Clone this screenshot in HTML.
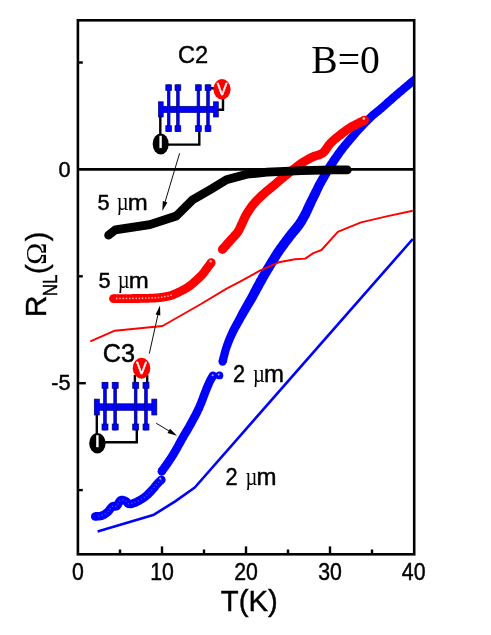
<!DOCTYPE html>
<html><head><meta charset="utf-8"><title>R_NL vs T</title>
<style>
html,body{margin:0;padding:0;background:#fff;}
body{width:491px;height:635px;overflow:hidden;font-family:"Liberation Sans",sans-serif;}
svg{display:block;will-change:transform;}
text{font-family:"Liberation Sans",sans-serif;fill:#000;stroke:#000;stroke-width:0.4px;}
.serif{font-family:"Liberation Serif",serif;stroke:none;}
</style></head><body>
<svg width="491" height="635" viewBox="0 0 491 635">
<rect x="0" y="0" width="491" height="635" fill="#fff"/>
<defs><clipPath id="plot"><rect x="78" y="20" width="336" height="534"/></clipPath></defs>

<!-- thick blue data -->
<g clip-path="url(#plot)">
<polygon points="95.4,520.6 96.0,520.6 96.9,520.6 98.1,520.6 99.5,520.5 101.0,520.2 102.5,519.9 103.8,519.4 104.9,518.9 106.0,518.4 107.1,517.8 108.1,517.1 109.1,516.3 110.2,515.5 111.3,514.4 112.3,513.3 113.1,512.2 113.8,511.2 114.4,510.4 114.8,510.0 114.4,510.2 113.8,510.3 113.7,510.5 115.8,510.8 118.8,509.9 120.5,508.2 121.4,506.9 122.0,505.7 122.5,504.7 123.0,503.9 123.1,503.7 122.6,504.1 122.1,504.2 122.1,504.2 122.5,504.4 123.2,504.6 123.5,504.7 123.6,504.8 123.9,505.3 125.1,506.7 127.4,508.0 129.6,508.3 131.3,508.2 132.7,507.9 134.1,507.5 135.3,507.1 136.5,506.7 137.6,506.2 138.8,505.6 139.9,505.0 141.0,504.4 142.1,503.8 143.0,503.2 144.0,502.7 144.9,502.1 145.9,501.5 146.8,500.8 147.8,500.1 148.8,499.3 149.7,498.5 150.6,497.7 151.4,496.9 152.2,496.1 153.1,495.2 153.8,494.4 154.6,493.6 155.4,492.7 156.2,491.8 157.0,490.8 157.8,489.9 158.5,488.9 159.2,488.1 159.9,487.3 160.4,486.7 161.3,485.7 162.2,484.8 163.1,484.0 163.8,483.3 164.4,482.7 158.4,476.7 157.9,477.2 157.2,477.9 156.2,478.8 155.2,479.8 154.2,480.9 153.4,481.8 152.7,482.7 151.9,483.6 151.2,484.5 150.5,485.4 149.8,486.2 149.0,487.1 148.4,487.8 147.6,488.6 146.9,489.3 146.2,490.1 145.4,490.8 144.7,491.5 144.0,492.2 143.4,492.7 142.6,493.3 141.9,493.9 141.1,494.4 140.3,494.9 139.5,495.4 138.7,495.9 137.9,496.4 136.9,497.0 135.9,497.5 135.0,498.0 134.1,498.4 133.2,498.8 132.5,499.1 131.5,499.4 130.7,499.7 130.0,499.8 129.7,499.8 130.2,500.0 130.7,500.3 130.6,500.0 129.6,498.8 127.9,497.5 126.4,496.8 125.0,496.2 123.3,495.8 121.0,495.8 118.6,496.5 116.8,498.0 115.8,499.4 115.1,500.6 114.5,501.7 114.0,502.6 113.8,503.0 114.4,502.5 115.4,502.3 115.5,502.1 113.4,501.8 110.6,502.6 108.8,503.9 107.9,505.0 107.0,506.1 106.3,507.1 105.6,508.0 105.1,508.6 104.6,509.1 104.0,509.6 103.3,510.0 102.7,510.5 102.0,510.9 101.3,511.2 100.6,511.5 100.1,511.7 99.4,511.9 98.6,512.0 97.7,512.1 96.7,512.1 95.7,512.1 95.0,512.2" fill="#0000ff"/><circle cx="95.2" cy="516.4" r="4.25" fill="#0000ff"/><circle cx="161.4" cy="479.7" r="4.25" fill="#0000ff"/>
<polygon points="165.3,473.7 165.6,473.2 166.1,472.5 166.6,471.8 167.3,470.9 167.9,470.0 168.7,469.0 169.4,467.9 170.1,466.9 170.8,465.9 171.5,464.9 172.1,464.0 172.7,463.2 173.2,462.3 173.8,461.5 174.4,460.6 175.0,459.7 175.6,458.8 176.2,457.8 176.9,456.8 177.5,455.8 178.1,454.7 178.6,453.8 179.1,453.0 179.6,452.1 180.1,451.2 180.6,450.3 181.1,449.4 181.6,448.5 182.1,447.6 182.6,446.6 183.2,445.7 183.7,444.8 184.2,443.8 184.7,442.9 185.2,442.0 185.7,441.1 186.2,440.3 186.7,439.4 187.1,438.6 187.6,437.8 188.1,436.9 188.6,436.1 189.1,435.2 189.6,434.4 190.2,433.5 190.7,432.7 191.2,431.8 191.7,430.9 192.2,430.0 192.8,429.0 193.3,428.1 193.8,427.2 194.3,426.3 194.8,425.5 195.2,424.6 195.7,423.7 196.2,422.8 196.7,421.9 197.2,421.0 197.7,420.1 198.2,419.2 198.7,418.2 199.2,417.3 199.7,416.3 200.2,415.4 200.6,414.5 201.1,413.5 201.6,412.6 202.0,411.6 202.5,410.7 202.9,409.7 203.4,408.6 203.8,407.6 204.2,406.6 204.7,405.5 205.1,404.5 205.5,403.5 205.9,402.4 206.3,401.4 206.6,400.4 207.0,399.4 207.4,398.5 207.7,397.6 208.1,396.7 208.4,395.8 208.7,395.0 209.0,394.2 209.5,393.0 210.0,391.8 210.4,390.8 210.8,389.7 211.2,388.7 211.6,387.8 212.0,386.9 212.3,386.1 212.7,385.3 213.0,384.5 213.3,383.8 213.9,382.8 214.4,381.8 214.9,380.8 215.4,380.0 215.9,379.2 216.3,378.5 216.7,378.0 209.3,373.6 209.1,374.1 208.7,374.8 208.2,375.6 207.6,376.6 206.9,377.7 206.3,378.9 205.7,380.2 205.3,381.0 204.9,381.9 204.5,382.8 204.1,383.7 203.7,384.6 203.4,385.6 202.9,386.6 202.5,387.6 202.1,388.7 201.6,389.8 201.2,391.0 200.8,391.8 200.5,392.7 200.1,393.6 199.8,394.5 199.4,395.5 199.1,396.4 198.7,397.4 198.3,398.4 197.9,399.4 197.6,400.4 197.2,401.4 196.8,402.4 196.4,403.3 196.0,404.3 195.6,405.3 195.2,406.2 194.7,407.1 194.3,408.0 193.9,408.9 193.5,409.8 193.0,410.6 192.6,411.5 192.1,412.4 191.7,413.3 191.2,414.2 190.7,415.1 190.2,416.0 189.7,416.9 189.2,417.8 188.8,418.7 188.3,419.6 187.8,420.5 187.3,421.3 186.8,422.2 186.4,423.0 185.9,424.0 185.4,424.9 184.9,425.7 184.4,426.6 183.9,427.5 183.3,428.3 182.8,429.2 182.3,430.0 181.8,430.9 181.3,431.7 180.8,432.6 180.3,433.4 179.8,434.3 179.3,435.2 178.8,436.0 178.3,436.9 177.8,437.8 177.2,438.8 176.7,439.7 176.2,440.7 175.7,441.6 175.2,442.6 174.7,443.5 174.2,444.4 173.7,445.3 173.2,446.2 172.7,447.1 172.2,447.9 171.8,448.8 171.3,449.6 170.9,450.3 170.2,451.3 169.6,452.3 169.1,453.2 168.5,454.1 167.9,455.0 167.3,455.9 166.8,456.7 166.2,457.6 165.6,458.4 165.1,459.3 164.5,460.1 163.8,461.0 163.2,462.0 162.5,463.0 161.7,464.0 161.0,465.0 160.4,465.9 159.8,466.8 159.2,467.5 158.7,468.2 158.3,468.7" fill="#0000ff"/><circle cx="161.8" cy="471.2" r="4.25" fill="#0000ff"/><circle cx="213.0" cy="375.8" r="4.25" fill="#0000ff"/>
<circle cx="219.4" cy="375.4" r="3.9" fill="#0000ff"/>
<polygon points="226.6,362.7 226.8,362.0 227.0,361.3 227.2,360.5 227.4,359.5 227.6,358.5 227.9,357.5 228.2,356.3 228.5,355.2 228.8,354.0 229.1,352.9 229.4,351.7 229.8,350.6 230.1,349.5 230.4,348.5 230.7,347.7 231.1,346.8 231.4,345.9 231.7,345.0 232.1,344.0 232.5,343.1 232.9,342.2 233.2,341.3 233.6,340.4 234.0,339.5 234.4,338.5 234.8,337.7 235.2,336.8 235.7,335.9 236.1,335.0 236.4,334.2 236.9,333.3 237.3,332.4 237.8,331.5 238.3,330.6 238.7,329.7 239.2,328.9 239.7,328.0 240.2,327.2 240.7,326.3 241.2,325.5 241.6,324.6 242.1,323.8 242.6,322.9 243.1,322.1 243.6,321.1 244.2,320.1 244.7,319.1 245.3,318.2 245.8,317.3 246.3,316.4 246.9,315.4 247.4,314.5 247.9,313.6 248.5,312.7 249.0,311.8 249.5,310.9 250.0,310.1 250.5,309.3 251.0,308.4 251.5,307.6 252.1,306.7 252.6,305.8 253.1,305.0 253.7,304.1 254.2,303.1 254.8,302.2 255.3,301.2 255.9,300.3 256.4,299.4 256.9,298.4 257.4,297.5 257.9,296.5 258.5,295.6 259.0,294.6 259.5,293.7 260.0,292.7 260.5,291.7 261.0,290.8 261.5,289.9 262.1,288.9 262.6,288.0 263.1,287.1 263.6,286.1 264.1,285.2 264.6,284.3 265.2,283.3 265.7,282.4 266.2,281.5 266.7,280.6 267.2,279.6 267.8,278.7 268.3,277.8 268.8,276.8 269.3,276.0 269.9,275.1 270.4,274.2 270.9,273.3 271.4,272.5 271.9,271.6 272.5,270.7 273.0,269.8 273.5,268.9 274.0,268.1 274.6,267.2 275.1,266.3 275.6,265.4 276.2,264.6 276.7,263.7 277.2,262.8 277.7,262.0 278.2,261.2 278.7,260.4 279.2,259.6 279.7,258.8 280.2,258.0 280.7,257.1 281.3,256.3 281.8,255.5 282.4,254.6 283.0,253.7 283.6,252.8 284.1,252.0 284.7,251.3 285.3,250.5 285.9,249.6 286.5,248.8 287.2,247.9 287.8,247.0 288.5,246.1 289.1,245.2 289.8,244.3 290.5,243.4 291.1,242.6 291.8,241.7 292.4,240.9 293.0,240.1 293.7,239.3 294.2,238.5 294.8,237.8 295.5,236.9 296.2,236.0 296.8,235.2 297.5,234.4 298.1,233.7 298.8,232.9 299.4,232.2 300.0,231.4 300.6,230.7 301.3,229.9 301.9,229.1 302.5,228.3 303.1,227.4 303.8,226.4 304.4,225.4 305.1,224.5 305.7,223.5 306.3,222.5 306.8,221.6 307.4,220.6 307.9,219.6 308.4,218.6 309.0,217.7 309.5,216.7 310.0,215.7 310.4,214.8 310.9,213.8 311.3,212.9 311.7,212.0 312.1,211.1 312.6,210.2 313.0,209.2 313.4,208.3 313.8,207.4 314.3,206.4 314.7,205.4 315.1,204.5 315.6,203.6 316.0,202.6 316.5,201.6 317.0,200.6 317.5,199.5 318.0,198.5 318.5,197.4 319.0,196.4 319.5,195.4 320.0,194.4 320.4,193.5 320.8,192.6 321.2,191.8 321.6,191.0 322.2,189.8 322.6,188.8 322.9,188.2 323.1,187.7 323.4,187.1 323.9,186.2 324.7,184.8 325.1,184.1 325.4,183.5 325.8,182.7 326.3,182.0 326.7,181.2 327.2,180.3 327.7,179.4 328.2,178.5 328.8,177.6 329.3,176.7 329.9,175.7 330.4,174.8 331.0,173.8 331.5,172.9 332.1,171.9 332.6,171.0 333.2,170.1 333.7,169.3 334.2,168.4 334.7,167.6 335.3,166.7 335.9,165.8 336.4,164.9 337.0,164.0 337.6,163.1 338.2,162.2 338.8,161.3 339.4,160.4 339.9,159.6 340.5,158.7 341.1,157.9 341.7,157.1 342.3,156.2 342.8,155.4 343.4,154.6 344.0,153.8 344.6,153.0 345.2,152.2 345.8,151.4 346.4,150.6 347.0,149.8 347.6,149.0 348.3,148.3 348.9,147.5 349.5,146.7 350.1,146.0 350.7,145.2 351.4,144.5 352.0,143.8 352.6,143.0 353.3,142.3 353.9,141.5 354.5,140.8 355.2,140.0 355.9,139.2 356.5,138.4 357.2,137.6 357.9,136.9 358.5,136.1 359.2,135.3 359.9,134.6 360.5,133.8 361.2,133.1 361.9,132.3 362.5,131.6 363.2,130.9 363.9,130.2 364.5,129.4 365.2,128.7 366.0,127.9 366.7,127.1 367.4,126.4 368.1,125.6 368.9,124.9 369.6,124.2 370.3,123.4 371.0,122.7 371.7,122.0 372.4,121.4 373.1,120.7 373.8,120.1 374.4,119.5 375.2,118.7 376.0,118.1 376.7,117.5 377.4,116.9 378.1,116.3 378.8,115.7 379.6,115.1 380.5,114.4 381.4,113.7 382.4,112.8 383.4,111.9 384.1,111.4 384.7,110.8 385.4,110.2 386.1,109.6 386.8,108.9 387.6,108.3 388.3,107.6 389.1,106.9 389.9,106.2 390.7,105.5 391.5,104.8 392.3,104.1 393.1,103.4 393.9,102.7 394.7,102.0 395.5,101.2 396.3,100.5 397.1,99.8 397.9,99.1 398.6,98.5 399.4,97.9 400.2,97.2 401.0,96.5 401.8,95.8 402.6,95.1 403.5,94.4 404.3,93.7 405.1,93.0 406.0,92.3 406.8,91.6 407.6,90.9 408.4,90.2 409.2,89.6 410.0,88.9 410.8,88.3 411.5,87.7 412.2,87.1 412.9,86.5 413.5,86.0 414.1,85.5 415.3,84.5 416.4,83.6 417.5,82.8 418.5,82.0 419.3,81.3 420.2,80.7 420.9,80.1 421.5,79.6 422.1,79.1 422.6,78.8 417.4,72.2 417.0,72.6 416.4,73.1 415.8,73.6 415.0,74.1 414.2,74.8 413.3,75.5 412.3,76.3 411.2,77.2 410.1,78.1 408.9,79.1 408.2,79.6 407.6,80.1 406.9,80.7 406.2,81.3 405.5,81.9 404.7,82.5 403.9,83.2 403.1,83.9 402.3,84.6 401.5,85.2 400.6,85.9 399.8,86.7 399.0,87.4 398.1,88.1 397.3,88.8 396.4,89.5 395.6,90.2 394.8,90.9 394.0,91.5 393.2,92.2 392.5,92.9 391.7,93.6 390.8,94.3 390.0,95.0 389.2,95.7 388.4,96.5 387.6,97.2 386.7,97.9 385.9,98.6 385.1,99.3 384.3,100.0 383.6,100.7 382.8,101.4 382.1,102.1 381.3,102.7 380.6,103.4 379.9,104.0 379.3,104.6 378.6,105.1 378.0,105.7 377.0,106.5 376.1,107.3 375.2,108.0 374.4,108.6 373.7,109.2 372.9,109.8 372.1,110.4 371.3,111.1 370.5,111.8 369.7,112.5 368.8,113.3 368.1,114.0 367.3,114.7 366.6,115.4 365.9,116.1 365.1,116.9 364.4,117.6 363.7,118.4 362.9,119.1 362.2,119.9 361.4,120.7 360.7,121.4 360.0,122.2 359.2,123.0 358.5,123.8 357.8,124.5 357.1,125.2 356.4,126.0 355.7,126.7 355.0,127.5 354.3,128.2 353.6,129.0 352.9,129.8 352.2,130.5 351.5,131.3 350.8,132.1 350.2,132.9 349.5,133.6 348.8,134.4 348.1,135.2 347.4,136.0 346.8,136.7 346.1,137.5 345.5,138.2 344.9,138.9 344.2,139.7 343.6,140.5 342.9,141.2 342.2,142.0 341.6,142.8 340.9,143.6 340.3,144.4 339.6,145.2 338.9,146.1 338.3,146.9 337.6,147.8 337.0,148.6 336.4,149.4 335.8,150.3 335.1,151.1 334.5,151.9 333.9,152.8 333.3,153.7 332.7,154.5 332.0,155.4 331.4,156.3 330.8,157.2 330.2,158.1 329.6,159.0 329.0,160.0 328.3,160.9 327.7,161.8 327.1,162.8 326.6,163.6 326.0,164.5 325.5,165.4 324.9,166.3 324.3,167.3 323.7,168.2 323.1,169.2 322.6,170.1 322.0,171.1 321.4,172.1 320.9,173.0 320.3,174.0 319.8,174.9 319.3,175.7 318.8,176.6 318.3,177.4 317.9,178.2 317.4,178.9 317.1,179.6 316.7,180.2 315.9,181.7 315.3,182.8 314.9,183.6 314.5,184.3 314.2,184.9 313.8,185.8 313.2,187.0 312.9,187.7 312.5,188.5 312.0,189.3 311.5,190.3 311.1,191.2 310.6,192.2 310.0,193.3 309.5,194.3 309.0,195.4 308.5,196.4 308.0,197.4 307.4,198.4 307.0,199.4 306.5,200.3 306.1,201.2 305.6,202.3 305.1,203.3 304.6,204.3 304.2,205.3 303.7,206.2 303.3,207.1 302.9,208.0 302.5,208.8 302.2,209.7 301.8,210.5 301.3,211.3 300.9,212.1 300.4,213.1 299.9,214.0 299.4,214.9 298.9,215.8 298.4,216.6 297.9,217.5 297.4,218.4 296.8,219.2 296.3,220.1 295.7,220.9 295.1,221.8 294.6,222.5 294.1,223.1 293.6,223.8 293.0,224.5 292.5,225.2 291.9,225.9 291.3,226.6 290.6,227.4 290.0,228.2 289.3,229.0 288.5,229.9 287.8,230.8 287.0,231.8 286.5,232.5 285.9,233.3 285.3,234.1 284.6,234.9 284.0,235.8 283.3,236.7 282.6,237.5 282.0,238.4 281.3,239.4 280.6,240.3 279.9,241.2 279.3,242.1 278.6,243.0 278.0,243.9 277.3,244.7 276.7,245.6 276.1,246.4 275.6,247.2 274.9,248.2 274.2,249.2 273.6,250.1 273.0,251.0 272.5,251.9 271.9,252.7 271.4,253.6 270.9,254.4 270.4,255.3 269.9,256.1 269.4,256.9 268.9,257.7 268.3,258.6 267.8,259.4 267.3,260.3 266.7,261.2 266.2,262.1 265.7,263.0 265.1,263.9 264.6,264.8 264.0,265.7 263.5,266.6 263.0,267.5 262.4,268.4 261.9,269.3 261.4,270.2 260.9,271.1 260.4,272.0 259.8,272.9 259.3,273.9 258.7,274.8 258.2,275.8 257.7,276.7 257.1,277.7 256.6,278.6 256.1,279.6 255.6,280.5 255.1,281.4 254.6,282.4 254.1,283.3 253.5,284.3 253.0,285.2 252.5,286.2 252.0,287.2 251.5,288.2 251.0,289.1 250.5,290.1 250.0,291.1 249.5,292.0 249.0,293.0 248.5,293.9 248.0,294.8 247.5,295.7 247.1,296.6 246.5,297.5 246.0,298.4 245.5,299.3 245.0,300.2 244.5,301.0 244.0,301.9 243.5,302.8 243.0,303.7 242.5,304.5 242.0,305.4 241.5,306.3 241.0,307.2 240.5,308.2 240.0,309.2 239.4,310.1 238.9,311.0 238.4,312.0 237.9,312.9 237.4,313.9 236.9,314.9 236.4,315.9 235.9,316.9 235.3,317.9 234.9,318.7 234.5,319.5 234.0,320.4 233.6,321.2 233.1,322.1 232.6,323.0 232.1,323.9 231.6,324.8 231.2,325.7 230.7,326.6 230.2,327.6 229.7,328.6 229.2,329.6 228.8,330.6 228.3,331.5 227.9,332.4 227.5,333.3 227.1,334.2 226.7,335.2 226.3,336.1 225.9,337.1 225.5,338.1 225.1,339.0 224.7,340.0 224.3,341.0 224.0,342.0 223.6,343.0 223.2,343.9 222.9,344.9 222.6,345.9 222.2,347.0 221.8,348.2 221.5,349.4 221.1,350.7 220.8,351.9 220.5,353.1 220.2,354.3 219.9,355.5 219.6,356.5 219.3,357.6 219.1,358.5 218.9,359.3 218.7,360.0 218.6,360.5" fill="#0000ff"/><circle cx="222.6" cy="361.6" r="4.15" fill="#0000ff"/><circle cx="420.0" cy="75.5" r="4.15" fill="#0000ff"/>
<polyline points="97.6,531.6 153.2,515.1 175.2,501.4 194.8,487.5 412.8,239.0" fill="none" stroke="#0000ff" stroke-width="2.6" stroke-linejoin="round"/>
<polygon points="113.5,303.0 114.1,303.0 114.7,303.0 115.4,303.0 116.2,303.0 117.1,303.0 118.0,303.0 119.0,303.0 120.1,303.0 121.1,303.0 122.2,303.0 123.4,303.0 124.6,303.0 125.7,303.0 126.9,303.0 128.1,303.0 129.3,303.0 130.4,303.0 131.6,303.0 132.7,302.9 133.8,302.9 134.8,302.9 135.8,302.9 136.8,302.9 137.9,302.9 139.1,302.9 140.2,302.8 141.3,302.8 142.4,302.8 143.6,302.8 144.6,302.8 145.7,302.7 146.8,302.7 147.8,302.7 148.8,302.7 149.8,302.6 150.8,302.6 151.8,302.6 152.7,302.5 153.6,302.5 154.4,302.4 155.3,302.4 156.7,302.3 157.9,302.2 159.1,302.1 160.2,302.0 161.2,301.9 162.1,301.7 163.1,301.6 164.0,301.5 164.9,301.3 165.8,301.1 166.8,300.9 167.8,300.8 168.8,300.6 169.8,300.4 171.0,300.1 172.2,299.7 173.5,299.2 175.0,298.7 175.8,298.3 176.6,298.0 177.5,297.6 178.4,297.2 179.3,296.8 180.3,296.3 181.3,295.8 182.3,295.3 183.3,294.8 184.4,294.3 185.4,293.8 186.5,293.2 187.5,292.6 188.5,292.0 189.5,291.4 190.5,290.8 191.4,290.1 192.4,289.4 193.3,288.7 194.2,287.9 195.2,287.2 196.1,286.4 197.0,285.6 197.9,284.9 198.7,284.1 199.6,283.3 200.4,282.6 201.2,281.9 201.9,281.2 202.6,280.5 203.3,279.8 203.9,279.2 204.9,278.2 205.9,277.1 206.7,276.2 207.4,275.3 208.0,274.5 208.5,273.7 209.0,273.0 209.5,272.3 210.0,271.7 210.8,270.7 211.6,269.6 212.4,268.5 213.1,267.5 213.8,266.6 214.3,265.9 214.7,265.3 207.7,260.1 207.2,260.7 206.7,261.4 206.0,262.3 205.3,263.3 204.5,264.3 203.8,265.3 203.0,266.3 202.4,267.1 201.8,267.9 201.3,268.6 200.9,269.3 200.4,270.0 199.9,270.6 199.3,271.3 198.6,272.1 197.7,273.0 197.1,273.5 196.5,274.1 195.8,274.8 195.1,275.5 194.4,276.1 193.6,276.9 192.8,277.6 192.0,278.3 191.2,279.0 190.4,279.7 189.6,280.4 188.8,281.1 187.9,281.7 187.1,282.3 186.3,282.9 185.5,283.4 184.8,284.0 183.9,284.5 183.1,285.0 182.2,285.5 181.2,286.0 180.3,286.5 179.4,287.0 178.4,287.5 177.5,287.9 176.6,288.3 175.7,288.8 174.8,289.2 173.9,289.5 173.1,289.9 172.3,290.2 171.6,290.5 170.4,291.0 169.4,291.4 168.6,291.6 167.9,291.8 167.1,292.0 166.3,292.1 165.3,292.3 164.2,292.5 163.3,292.6 162.5,292.8 161.7,292.9 160.9,293.0 160.1,293.1 159.2,293.2 158.2,293.3 157.2,293.4 156.0,293.5 154.7,293.6 154.0,293.7 153.1,293.7 152.3,293.7 151.4,293.8 150.5,293.8 149.6,293.8 148.6,293.9 147.6,293.9 146.6,293.9 145.5,293.9 144.5,294.0 143.4,294.0 142.3,294.0 141.2,294.0 140.1,294.0 138.9,294.1 137.8,294.1 136.6,294.1 135.7,294.1 134.7,294.1 133.7,294.1 132.6,294.1 131.5,294.2 130.4,294.2 129.2,294.2 128.1,294.2 126.9,294.2 125.7,294.2 124.5,294.2 123.4,294.2 122.2,294.2 121.1,294.2 120.0,294.2 119.0,294.2 118.0,294.2 117.1,294.2 116.2,294.2 115.4,294.2 114.7,294.2 114.0,294.2 113.5,294.2" fill="#ff0000"/><circle cx="113.5" cy="298.6" r="4.40" fill="#ff0000"/><circle cx="211.2" cy="262.7" r="4.40" fill="#ff0000"/>
<polygon points="225.8,252.4 226.2,252.0 226.7,251.4 227.2,250.7 227.9,250.0 228.6,249.2 229.4,248.4 230.1,247.5 230.9,246.6 231.7,245.7 232.5,244.9 233.2,244.0 233.9,243.3 234.6,242.5 235.3,241.7 236.1,240.8 236.9,240.0 237.7,239.2 238.4,238.3 239.2,237.5 240.0,236.6 240.7,235.6 241.4,234.7 242.1,233.6 242.7,232.5 243.3,231.5 243.7,230.5 244.2,229.6 244.6,228.7 245.0,227.8 245.4,226.9 245.9,226.0 246.3,225.1 246.7,224.2 247.1,223.2 247.6,222.3 248.0,221.4 248.4,220.5 248.8,219.6 249.3,218.7 249.7,217.8 250.2,216.9 250.7,216.1 251.2,215.3 251.7,214.5 252.2,213.7 252.7,212.9 253.3,212.0 253.8,211.2 254.4,210.4 255.0,209.6 255.6,208.8 256.2,208.0 256.8,207.3 257.4,206.5 258.1,205.8 258.7,205.0 259.4,204.3 260.1,203.6 260.8,202.8 261.5,202.1 262.3,201.4 263.0,200.6 263.8,199.9 264.6,199.2 265.4,198.4 266.1,197.7 266.9,197.1 267.6,196.4 268.3,195.8 269.1,195.1 269.8,194.5 270.6,193.9 271.4,193.2 272.2,192.6 273.0,191.9 273.8,191.2 274.6,190.6 275.4,189.9 276.2,189.2 277.0,188.6 277.8,187.9 278.6,187.2 279.4,186.5 280.2,185.8 281.0,185.2 281.8,184.5 282.6,183.8 283.4,183.2 284.1,182.5 284.9,181.9 285.6,181.3 286.4,180.7 287.2,180.0 288.0,179.3 288.8,178.7 289.5,178.1 290.3,177.5 291.0,176.9 291.8,176.3 292.5,175.7 293.3,175.1 294.1,174.5 294.9,173.9 295.8,173.2 296.6,172.6 297.4,172.0 298.2,171.3 299.1,170.7 299.9,170.0 300.8,169.4 301.6,168.7 302.4,168.1 303.3,167.5 304.1,167.0 304.9,166.5 305.7,165.9 306.6,165.3 307.6,164.8 308.5,164.2 309.4,163.7 310.3,163.2 311.2,162.7 312.1,162.3 313.0,161.8 313.8,161.4 314.5,161.1 315.4,160.7 316.3,160.4 317.2,160.1 318.1,159.8 319.1,159.5 320.2,159.2 321.3,158.7 322.4,158.2 323.5,157.7 324.8,157.0 326.1,156.0 327.4,154.8 328.2,153.9 328.8,153.1 329.5,152.2 330.0,151.4 330.6,150.5 331.2,149.7 331.8,148.8 332.4,148.0 333.0,147.3 333.5,146.6 334.2,145.9 334.7,145.3 335.4,144.7 336.0,144.1 336.7,143.5 337.5,142.8 338.3,142.2 339.0,141.6 339.8,140.9 340.6,140.3 341.5,139.6 342.3,139.0 343.1,138.4 343.9,137.8 344.7,137.1 345.5,136.5 346.3,135.9 347.1,135.3 347.9,134.7 348.6,134.1 349.4,133.6 350.2,133.0 351.0,132.5 351.8,131.9 352.7,131.4 353.6,130.9 354.4,130.4 355.3,129.9 356.3,129.4 357.3,128.9 358.4,128.3 359.4,127.8 360.5,127.2 361.6,126.7 362.6,126.2 363.6,125.8 364.4,125.3 365.2,124.9 365.9,124.6 366.5,124.3 362.5,116.3 362.0,116.5 361.3,116.9 360.5,117.2 359.6,117.7 358.7,118.1 357.6,118.6 356.6,119.2 355.4,119.7 354.3,120.3 353.2,120.9 352.1,121.4 351.0,122.0 350.0,122.6 349.0,123.1 348.0,123.7 347.0,124.4 346.1,125.0 345.1,125.6 344.3,126.2 343.4,126.8 342.5,127.5 341.7,128.1 340.9,128.7 340.0,129.3 339.2,130.0 338.3,130.6 337.5,131.3 336.7,131.9 335.9,132.5 335.1,133.2 334.2,133.9 333.3,134.6 332.5,135.3 331.7,136.0 330.8,136.7 330.0,137.4 329.2,138.2 328.4,138.9 327.6,139.7 326.8,140.7 325.9,141.7 325.2,142.6 324.5,143.6 323.8,144.6 323.2,145.4 322.6,146.3 322.1,147.0 321.7,147.6 321.3,148.1 321.0,148.4 320.2,149.2 319.8,149.5 319.4,149.7 318.7,150.0 317.7,150.5 317.1,150.7 316.5,150.9 315.6,151.2 314.6,151.5 313.4,151.8 312.1,152.3 310.7,152.9 309.8,153.3 308.9,153.8 308.0,154.3 307.0,154.8 306.0,155.3 305.0,155.9 304.0,156.4 303.0,157.0 302.0,157.7 300.9,158.3 299.9,158.9 299.0,159.5 298.1,160.2 297.2,160.8 296.3,161.5 295.4,162.2 294.5,162.8 293.6,163.5 292.7,164.2 291.9,164.9 291.1,165.5 290.2,166.1 289.5,166.7 288.6,167.4 287.8,168.0 287.0,168.6 286.2,169.2 285.4,169.9 284.7,170.5 283.9,171.1 283.1,171.7 282.3,172.4 281.5,173.0 280.6,173.7 279.9,174.3 279.1,175.0 278.4,175.6 277.6,176.3 276.8,176.9 276.0,177.6 275.2,178.3 274.4,179.0 273.6,179.7 272.8,180.4 272.0,181.0 271.2,181.7 270.4,182.4 269.6,183.0 268.9,183.6 268.1,184.3 267.3,184.9 266.5,185.6 265.7,186.3 264.9,186.9 264.1,187.6 263.2,188.3 262.4,189.0 261.6,189.7 260.8,190.4 260.1,191.1 259.2,191.8 258.4,192.6 257.6,193.4 256.8,194.1 256.0,194.9 255.2,195.7 254.4,196.5 253.6,197.3 252.8,198.1 252.1,199.0 251.3,199.8 250.6,200.7 249.8,201.6 249.1,202.5 248.4,203.3 247.8,204.2 247.1,205.1 246.5,206.1 245.8,207.0 245.2,207.9 244.6,208.8 244.0,209.7 243.5,210.6 242.9,211.5 242.3,212.5 241.8,213.6 241.2,214.6 240.7,215.6 240.3,216.6 239.8,217.6 239.4,218.6 238.9,219.5 238.5,220.4 238.2,221.2 237.7,222.0 237.2,223.1 236.8,224.1 236.4,225.0 236.0,225.9 235.6,226.7 235.3,227.4 234.9,228.1 234.5,228.8 234.0,229.5 233.5,230.2 233.0,230.9 232.4,231.6 231.7,232.3 231.0,233.1 230.3,233.9 229.5,234.7 228.8,235.5 227.9,236.4 227.1,237.3 226.5,238.1 225.7,238.9 225.0,239.7 224.2,240.6 223.4,241.5 222.6,242.4 221.9,243.2 221.2,244.0 220.5,244.7 219.9,245.4 219.4,246.0 219.0,246.4" fill="#ff0000"/><circle cx="222.4" cy="249.4" r="4.50" fill="#ff0000"/><circle cx="364.5" cy="120.3" r="4.50" fill="#ff0000"/>
<g fill="#ffb4b4" opacity="1"><circle cx="116.7" cy="298.4" r="0.85"/><circle cx="120.0" cy="298.4" r="0.85"/><circle cx="123.3" cy="298.4" r="0.85"/><circle cx="126.5" cy="298.4" r="0.85"/><circle cx="129.8" cy="298.4" r="0.85"/><circle cx="132.9" cy="298.3" r="0.85"/><circle cx="136.2" cy="298.3" r="0.85"/><circle cx="139.4" cy="298.3" r="0.85"/><circle cx="142.5" cy="298.2" r="0.85"/><circle cx="145.7" cy="298.1" r="0.85"/><circle cx="149.0" cy="298.1" r="0.85"/><circle cx="152.2" cy="297.9" r="0.85"/><circle cx="155.3" cy="297.8" r="0.85"/><circle cx="158.5" cy="297.5" r="0.85"/><circle cx="161.7" cy="297.2" r="0.85"/><circle cx="164.8" cy="296.6" r="0.85"/><circle cx="168.0" cy="296.1" r="0.85"/><circle cx="171.1" cy="295.2" r="0.85"/></g>
<g fill="#9a9aff" opacity="0.55"><circle cx="98.8" cy="516.1" r="0.7"/><circle cx="102.2" cy="515.3" r="0.7"/><circle cx="105.2" cy="513.7" r="0.7"/><circle cx="108.0" cy="511.6" r="0.7"/><circle cx="110.2" cy="508.8" r="0.7"/><circle cx="112.5" cy="506.2" r="0.7"/><circle cx="115.8" cy="506.3" r="0.7"/><circle cx="118.0" cy="503.9" r="0.7"/><circle cx="119.7" cy="500.9" r="0.7"/><circle cx="122.9" cy="499.9" r="0.7"/><circle cx="126.1" cy="501.1" r="0.7"/><circle cx="128.4" cy="503.7" r="0.7"/><circle cx="131.9" cy="503.5" r="0.7"/><circle cx="135.1" cy="502.4" r="0.7"/><circle cx="138.3" cy="500.9" r="0.7"/><circle cx="141.4" cy="499.1" r="0.7"/><circle cx="144.2" cy="497.2" r="0.7"/><circle cx="147.0" cy="495.1" r="0.7"/><circle cx="149.4" cy="492.7" r="0.7"/><circle cx="151.8" cy="490.1" r="0.7"/><circle cx="154.1" cy="487.4" r="0.7"/><circle cx="156.3" cy="484.7" r="0.7"/><circle cx="158.7" cy="482.2" r="0.7"/><circle cx="161.1" cy="479.8" r="0.7"/></g>
<circle cx="212.7" cy="375.3" r="1.0" fill="#b0b0ff"/><circle cx="218.6" cy="374.6" r="1.0" fill="#b0b0ff"/><circle cx="160.2" cy="478.6" r="1.0" fill="#b0b0ff"/>
<circle cx="363.8" cy="118.6" r="1.3" fill="#fff" opacity="0.75"/>
<circle cx="210.6" cy="261.2" r="1.3" fill="#fff" opacity="0.6"/>
<polyline points="90.3,341.4 114.8,330.7 162.5,326.0 201.0,304.0 226.6,288.6 240.0,281.6 260.4,270.4 278.7,262.3 295.0,259.2 305.2,258.6 313.3,253.1 321.5,250.0 337.8,231.8 361.0,222.4 386.6,216.4 412.8,210.8" fill="none" stroke="#ff0000" stroke-width="1.9" stroke-linejoin="round"/>
</g>

<!-- zero line -->
<line x1="78" y1="169.4" x2="414" y2="169.4" stroke="#000" stroke-width="2.6"/>
<polyline points="108.6,235.2 115.3,229.9 149.9,224.6 176.3,216.0 192.3,200.1 210.5,189.4 226.5,179.8 246.8,174.3 267.2,172.1 301.7,170.6 332.2,169.9 347.3,169.9" fill="none" stroke="#000" stroke-width="8.7" stroke-linejoin="round" stroke-linecap="round"/>

<!-- frame -->
<rect x="77.9" y="20.3" width="336.3" height="534" fill="none" stroke="#000" stroke-width="2.6"/>
<g stroke="#000" stroke-width="2.4">
<line x1="120.0" y1="553" x2="120.0" y2="549.5"/>
<line x1="162.0" y1="553" x2="162.0" y2="546.4"/>
<line x1="204.0" y1="553" x2="204.0" y2="549.5"/>
<line x1="246.0" y1="553" x2="246.0" y2="546.4"/>
<line x1="288.0" y1="553" x2="288.0" y2="549.5"/>
<line x1="330.0" y1="553" x2="330.0" y2="546.4"/>
<line x1="372.0" y1="553" x2="372.0" y2="549.5"/>
<line x1="79" y1="62.5" x2="82.8" y2="62.5"/>
<line x1="79" y1="276.3" x2="82.8" y2="276.3"/>
<line x1="79" y1="383.2" x2="85.8" y2="383.2"/>
<line x1="79" y1="490.1" x2="82.8" y2="490.1"/>
</g>

<!-- tick labels -->
<g font-size="20.9px" text-anchor="middle">
<text transform="translate(78,579.7) scale(1.018,1.11)">0</text>
<text transform="translate(162,579.7) scale(1.018,1.11)">10</text>
<text transform="translate(246,579.7) scale(1.018,1.11)">20</text>
<text transform="translate(330,579.7) scale(1.018,1.11)">30</text>
<text transform="translate(413.7,579.5) scale(1.018,1.11)">40</text>
</g>
<g font-size="20.9px" text-anchor="end">
<text transform="translate(70.5,176.8) scale(1.04,1.10)">0</text>
<text transform="translate(70.5,390.4) scale(1.04,1.10)">-5</text>
</g>
<text transform="translate(220.8,611.2) scale(1.027,1.05)" font-size="28.5px">T(K)</text>
<g transform="translate(46.2,317.2) rotate(-90)">
<text x="0" y="0" font-size="30px">R</text>
<text transform="translate(20.9,11) scale(1,1.16)" font-size="17px">NL</text>
<text x="43.2" y="0.8" font-size="29px">(</text>
<text class="serif" x="52.5" y="0" font-size="29.7px">Ω</text>
<text x="76" y="0.8" font-size="29px">)</text>
</g>
<text class="serif" transform="translate(311.3,72.8) scale(1.03,1.05)" font-size="38.5px">B=0</text>

<!-- curve labels -->
<text transform="translate(97.6,209.6) scale(1.06,1.1)" font-size="20.5px">5</text><text class="serif" transform="translate(116.8,209.6) scale(1.0,1.23)" font-size="20.5px">µ</text><text transform="translate(127.8,209.6) scale(1.17,1.1)" font-size="20.5px">m</text>
<text transform="translate(98.6,288.3) scale(1.06,1.11)" font-size="20.5px">5</text><text class="serif" transform="translate(117.8,288.3) scale(1.0,1.23)" font-size="20.5px">µ</text><text transform="translate(128.8,288.3) scale(1.17,1.11)" font-size="20.5px">m</text>
<text transform="translate(233,382) scale(1.06,1.14)" font-size="20.5px">2</text><text class="serif" transform="translate(253.0,382) scale(1.0,1.23)" font-size="20.5px">µ</text><text transform="translate(264.0,382) scale(1.17,1.14)" font-size="20.5px">m</text>
<text transform="translate(225.5,485.2) scale(1.06,1.15)" font-size="20.5px">2</text><text class="serif" transform="translate(245.5,485.2) scale(1.0,1.23)" font-size="20.5px">µ</text><text transform="translate(256.5,485.2) scale(1.17,1.15)" font-size="20.5px">m</text>
<text transform="translate(178.0,63.4) scale(1.075,1.05)" font-size="22px">C2</text>
<text transform="translate(102.8,361.6) scale(1.15,1.17)" font-size="22px">C3</text>

<!-- C2 inset -->
<g fill="#0000ff" stroke="#000078" stroke-width="0.7">
<rect x="159.4" y="106.3" width="57.9" height="6.2"/>
<rect x="158.4" y="101.8" width="4.8" height="15.2"/>
<rect x="213.5" y="101.8" width="4.8" height="15.2"/>
<rect x="167.4" y="85.0" width="2.6" height="46.4"/>
<rect x="165.8" y="84.8" width="5.8" height="5.8"/>
<rect x="165.8" y="125.7" width="5.8" height="5.8"/>
<rect x="176.6" y="85.0" width="2.6" height="46.4"/>
<rect x="175.0" y="84.8" width="5.8" height="5.8"/>
<rect x="175.0" y="125.7" width="5.8" height="5.8"/>
<rect x="197.1" y="85.0" width="2.6" height="46.4"/>
<rect x="195.5" y="84.8" width="5.8" height="5.8"/>
<rect x="195.5" y="125.7" width="5.8" height="5.8"/>
<rect x="206.7" y="85.0" width="2.6" height="46.4"/>
<rect x="205.1" y="84.8" width="5.8" height="5.8"/>
<rect x="205.1" y="125.7" width="5.8" height="5.8"/>
</g>
<g fill="none" stroke="#000" stroke-width="2.4">
<polyline points="160.3,116.6 160.3,135"/>
<polyline points="168,144.6 199.3,144.6 199.3,131.3"/>
<polyline points="210.9,88.3 214.5,88.3"/>
<polyline points="223,99 223,109.8 218.3,109.8"/>
</g>
<ellipse cx="160.7" cy="144" rx="8" ry="10.5" fill="#000"/>
<rect x="159.4" y="135.8" width="2.4" height="12.2" fill="#fff"/>
<ellipse cx="222" cy="89.3" rx="8.6" ry="10.2" fill="#ff0000"/>
<text x="222" y="95" font-size="16px" text-anchor="middle" style="fill:#fff;stroke:#fff">V</text>

<!-- C3 inset -->
<g fill="#0000ff" stroke="#000078" stroke-width="0.7">
<rect x="95.3" y="403.8" width="60.5" height="6.5"/>
<rect x="94.3" y="399.1" width="5.0" height="15.9"/>
<rect x="151.8" y="399.1" width="5.0" height="15.9"/>
<rect x="103.6" y="382.5" width="2.7" height="47.5"/>
<rect x="102.0" y="382.3" width="6.0" height="6.0"/>
<rect x="102.0" y="424.0" width="6.0" height="6.0"/>
<rect x="113.8" y="382.5" width="2.7" height="47.5"/>
<rect x="112.2" y="382.3" width="6.0" height="6.0"/>
<rect x="112.2" y="424.0" width="6.0" height="6.0"/>
<rect x="134.3" y="382.5" width="2.7" height="47.5"/>
<rect x="132.7" y="382.3" width="6.0" height="6.0"/>
<rect x="132.7" y="424.0" width="6.0" height="6.0"/>
<rect x="144.6" y="382.5" width="2.7" height="47.5"/>
<rect x="143.0" y="382.3" width="6.0" height="6.0"/>
<rect x="143.0" y="424.0" width="6.0" height="6.0"/>
</g>
<g fill="none" stroke="#000" stroke-width="2.4">
<polyline points="96.8,414.4 96.8,434"/>
<polyline points="105,442.3 136.8,442.3 136.8,429.8"/>
<polyline points="134.9,375 134.9,382.3"/>
<polyline points="147.2,375 147.2,382.3"/>
</g>
<ellipse cx="97.4" cy="443.3" rx="8.2" ry="10.3" fill="#000"/>
<rect x="96.2" y="435.2" width="2.4" height="12" fill="#fff"/>
<ellipse cx="141.5" cy="368.2" rx="8.8" ry="10.5" fill="#ff0000"/>
<text x="141.5" y="374" font-size="16px" text-anchor="middle" style="fill:#fff;stroke:#fff">V</text>

<!-- arrows -->
<line x1="179.6" y1="153.3" x2="164.8" y2="202.8" stroke="#000" stroke-width="0.95"/><polygon points="162.3,211.0 162.8,201.1 167.4,202.5" fill="#000"/>
<line x1="149.3" y1="353.6" x2="158.1" y2="314.0" stroke="#000" stroke-width="0.95"/><polygon points="160.0,305.6 160.3,315.5 155.6,314.4" fill="#000"/>
<line x1="156.2" y1="423.2" x2="169.6" y2="431.3" stroke="#000" stroke-width="0.95"/><polygon points="177.0,435.8 167.5,432.9 170.0,428.8" fill="#000"/>
</svg>
</body></html>
